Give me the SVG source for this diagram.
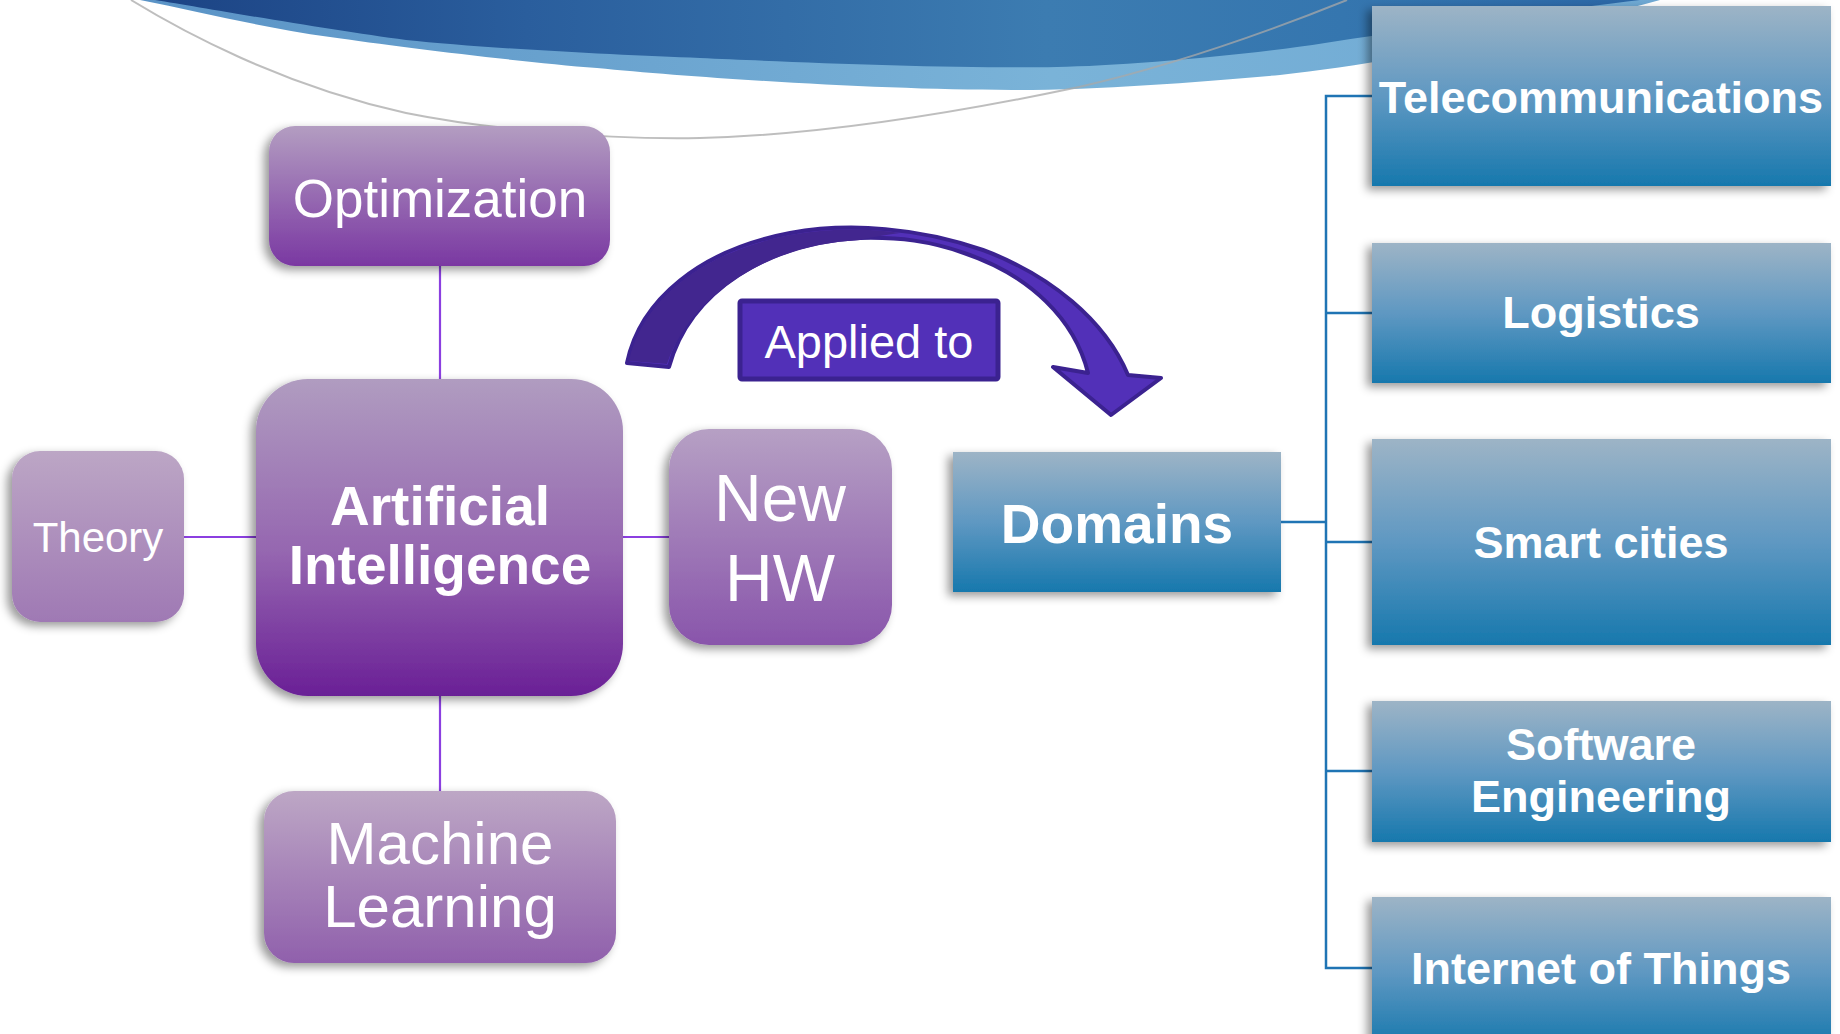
<svg xmlns="http://www.w3.org/2000/svg" width="1840" height="1034" viewBox="0 0 1840 1034">
<defs>
<style>
.pt{font-family:"Liberation Sans",Arial,sans-serif;fill:#fff;text-anchor:middle}
.bt{font-family:"Liberation Sans",Arial,sans-serif;fill:#fff;text-anchor:middle;font-weight:bold;font-size:45px}
.pl{stroke:#8b3fe0;stroke-width:2.2;fill:none}
.bl{stroke:#1f74b4;stroke-width:2.5;fill:none}
.bbox{fill:url(#gBlue);filter:url(#sh)}
</style>
<linearGradient id="gBlue" x1="0" y1="0" x2="0" y2="1">
<stop offset="0" stop-color="#9db4c6"/><stop offset="0.5" stop-color="#5f98c2"/><stop offset="1" stop-color="#1778ad"/>
</linearGradient>
<linearGradient id="gOpt" x1="0" y1="0" x2="0" y2="1"><stop offset="0" stop-color="#b39dc1"/><stop offset="1" stop-color="#7a38a2"/></linearGradient>
<linearGradient id="gAI" x1="0" y1="0" x2="0" y2="1"><stop offset="0" stop-color="#b09cc0"/><stop offset="0.55" stop-color="#9566b0"/><stop offset="1" stop-color="#6a1f96"/></linearGradient>
<linearGradient id="gTh" x1="0" y1="0" x2="0" y2="1"><stop offset="0" stop-color="#bca6c5"/><stop offset="1" stop-color="#9f79b4"/></linearGradient>
<linearGradient id="gHW" x1="0" y1="0" x2="0" y2="1"><stop offset="0" stop-color="#b6a0c4"/><stop offset="1" stop-color="#8955ab"/></linearGradient>
<linearGradient id="gML" x1="0" y1="0" x2="0" y2="1"><stop offset="0" stop-color="#bda7c5"/><stop offset="1" stop-color="#9060ac"/></linearGradient>
<linearGradient id="gDark" x1="0" y1="0" x2="1" y2="0">
<stop offset="0" stop-color="#1c4384"/><stop offset="0.25" stop-color="#2a5e9d"/><stop offset="0.6" stop-color="#3c7cb1"/><stop offset="0.8" stop-color="#3576af"/><stop offset="1" stop-color="#2b66a6"/>
</linearGradient>
<linearGradient id="gLight" x1="0" y1="0" x2="1" y2="0">
<stop offset="0" stop-color="#5a93c6"/><stop offset="0.6" stop-color="#7ab3d8"/><stop offset="1" stop-color="#6ea8d3"/>
</linearGradient>
<filter id="sh" x="-20%" y="-20%" width="140%" height="140%">
<feDropShadow dx="-5" dy="4" stdDeviation="5" flood-color="#000" flood-opacity="0.4"/>
</filter>
</defs>

<g id="background">
<path d="M140,0 C200,12 260,27 330,37 C400,47 520,62 597,68 C700,78 880,90 1012,90 C1100,90 1200,82 1280,75 C1400,62 1550,30 1660,0 Z" fill="url(#gLight)"/>
<path d="M155,0 C210,9 330,30 406,40 C480,48 620,55 700,58 C790,62 960,69 1057,67 C1120,66 1250,55 1325,43 C1450,24 1560,10 1640,0 Z" fill="url(#gDark)"/>
<path d="M131,0 C180,30 280,85 406,113 C480,128 600,140 700,138 C820,135 960,112 1079,87 C1170,66 1260,35 1347,0" fill="none" stroke="#a8a8a8" stroke-opacity="0.75" stroke-width="2"/>
</g>

<g id="connectors">
<line class="pl" x1="440" y1="266" x2="440" y2="380"/>
<line class="pl" x1="440" y1="696" x2="440" y2="792"/>
<line class="pl" x1="184" y1="537" x2="256" y2="537"/>
<line class="pl" x1="623" y1="537" x2="669" y2="537"/>
<polyline class="bl" points="1281,522 1326,522"/>
<polyline class="bl" points="1372,96 1326,96 1326,968 1372,968"/>
<line class="bl" x1="1326" y1="313" x2="1372" y2="313"/>
<line class="bl" x1="1326" y1="542" x2="1372" y2="542"/>
<line class="bl" x1="1326" y1="771" x2="1372" y2="771"/>
</g>

<g id="arrow">
<path d="M627,363 C640,300 700,250 790,233 C850,222 920,228 983,250 C1050,275 1105,320 1128,375 L1161,378 L1111,415 L1053,367 L1088,373 C1075,320 1030,275 964,253 C930,241 900,237 860,238 C770,242 690,290 669,367 Z" fill="#5230b8" stroke="#3b2290" stroke-width="4" stroke-linejoin="round"/>
<path d="M629,361 C642,300 702,252 790,235 C830,228 870,228 900,233 C880,236 866,238 860,240 C772,244 692,292 667,364 Z" fill="#42268f"/>
</g>

<g id="node-applied">
<rect x="740" y="301" width="258" height="78" fill="#5230b8" stroke="#3b2290" stroke-width="5" rx="2"/>
<text class="pt" x="869" y="358" font-size="47">Applied to</text>
</g>

<g id="node-optimization">
<rect x="269" y="126" width="341" height="140" rx="26" fill="url(#gOpt)" filter="url(#sh)"/>
<text class="pt" x="440" y="217" font-size="53">Optimization</text>
</g>

<g id="node-ai">
<rect x="256" y="379" width="367" height="317" rx="52" fill="url(#gAI)" filter="url(#sh)"/>
<text class="pt" x="440" y="525" font-size="55" font-weight="bold">Artificial</text>
<text class="pt" x="440" y="584" font-size="55" font-weight="bold">Intelligence</text>
</g>

<g id="node-theory">
<rect x="12" y="451" width="172" height="171" rx="28" fill="url(#gTh)" filter="url(#sh)"/>
<text class="pt" x="98" y="552" font-size="42">Theory</text>
</g>

<g id="node-newhw">
<rect x="669" y="429" width="223" height="216" rx="40" fill="url(#gHW)" filter="url(#sh)"/>
<text class="pt" x="780" y="521" font-size="66">New</text>
<text class="pt" x="780" y="601" font-size="66">HW</text>
</g>

<g id="node-ml">
<rect x="264" y="791" width="352" height="172" rx="30" fill="url(#gML)" filter="url(#sh)"/>
<text class="pt" x="440" y="864" font-size="60">Machine</text>
<text class="pt" x="440" y="927" font-size="60">Learning</text>
</g>

<g id="node-domains">
<rect class="bbox" x="953" y="452" width="328" height="140"/>
<text class="bt" x="1117" y="543" style="font-size:55px">Domains</text>
</g>

<g id="node-telecom">
<rect class="bbox" x="1372" y="6" width="459" height="180"/>
<text class="bt" x="1601" y="113">Telecommunications</text>
</g>

<g id="node-logistics">
<rect class="bbox" x="1372" y="243" width="459" height="140"/>
<text class="bt" x="1601" y="328">Logistics</text>
</g>

<g id="node-smart">
<rect class="bbox" x="1372" y="439" width="459" height="206"/>
<text class="bt" x="1601" y="558">Smart cities</text>
</g>

<g id="node-software">
<rect class="bbox" x="1372" y="701" width="459" height="141"/>
<text class="bt" x="1601" y="760">Software</text>
<text class="bt" x="1601" y="812">Engineering</text>
</g>

<g id="node-iot">
<rect class="bbox" x="1372" y="897" width="459" height="150"/>
<text class="bt" x="1601" y="984">Internet of Things</text>
</g>
</svg>
